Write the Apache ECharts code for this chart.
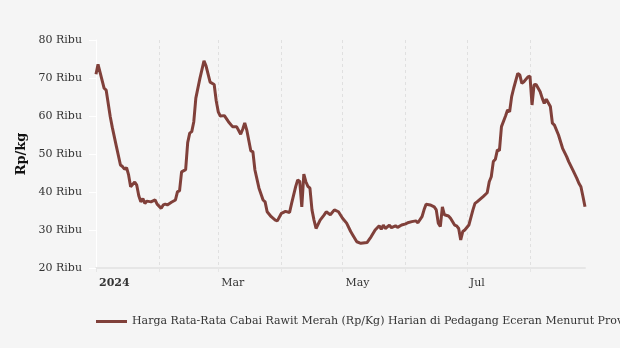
<!DOCTYPE html>
<html>
<head>
<meta charset="utf-8">
<title>Harga Cabai Rawit Merah 2024</title>
<script src="https://cdn.jsdelivr.net/npm/echarts@6/dist/echarts.min.js"></script>
<style>
  html, body { margin: 0; padding: 0; background: #f5f5f5; }
  #chart { width: 620px; height: 348px; }
</style>
</head>
<body>
<div id="chart"></div>
<script>
// Daily average retail price of red bird's-eye chili (Rp/kg), 2024
const seriesName = 'Harga Rata-Rata Cabai Rawit Merah (Rp/Kg) Harian di Pedagang Eceran Menurut Provinsi';

const dates = [
  '2024-01-01','2024-01-02','2024-01-03','2024-01-05','2024-01-06','2024-01-08','2024-01-09','2024-01-11',
  '2024-01-13','2024-01-14','2024-01-15','2024-01-16','2024-01-17','2024-01-18','2024-01-20','2024-01-21',
  '2024-01-22','2024-01-23','2024-01-24','2024-01-25','2024-01-26','2024-01-28','2024-01-30','2024-01-31',
  '2024-02-02','2024-02-03','2024-02-04','2024-02-05','2024-02-07','2024-02-09','2024-02-10','2024-02-11',
  '2024-02-12','2024-02-14','2024-02-15','2024-02-16','2024-02-17','2024-02-18','2024-02-19','2024-02-21',
  '2024-02-23','2024-02-24','2024-02-26','2024-02-28','2024-02-29',
  '2024-03-01','2024-03-02','2024-03-04','2024-03-06','2024-03-08','2024-03-10','2024-03-12','2024-03-13',
  '2024-03-14','2024-03-15','2024-03-17','2024-03-18','2024-03-19','2024-03-21','2024-03-23','2024-03-24',
  '2024-03-25','2024-03-27','2024-03-29','2024-03-30',
  '2024-04-01','2024-04-03','2024-04-05','2024-04-06','2024-04-08','2024-04-09','2024-04-10','2024-04-11',
  '2024-04-12','2024-04-13','2024-04-14','2024-04-15','2024-04-16','2024-04-17','2024-04-18','2024-04-20',
  '2024-04-22','2024-04-23','2024-04-25','2024-04-27','2024-04-29',
  '2024-05-01','2024-05-03','2024-05-05','2024-05-06','2024-05-08','2024-05-10','2024-05-13','2024-05-15',
  '2024-05-17','2024-05-19','2024-05-20','2024-05-21','2024-05-22','2024-05-24','2024-05-25','2024-05-27',
  '2024-05-28','2024-05-30',
  '2024-06-01','2024-06-02','2024-06-04','2024-06-06','2024-06-07','2024-06-09','2024-06-10','2024-06-11',
  '2024-06-13','2024-06-15','2024-06-16','2024-06-17','2024-06-18','2024-06-19','2024-06-20','2024-06-22',
  '2024-06-23','2024-06-25','2024-06-26','2024-06-27','2024-06-28','2024-06-29','2024-06-30',
  '2024-07-02','2024-07-04','2024-07-05','2024-07-06','2024-07-09','2024-07-11','2024-07-12','2024-07-13',
  '2024-07-14','2024-07-15','2024-07-16','2024-07-17','2024-07-18','2024-07-20','2024-07-21','2024-07-22',
  '2024-07-23','2024-07-24','2024-07-26','2024-07-27','2024-07-28','2024-07-29','2024-07-31',
  '2024-08-01','2024-08-02','2024-08-03','2024-08-04','2024-08-06','2024-08-07','2024-08-08','2024-08-09',
  '2024-08-11','2024-08-12','2024-08-13','2024-08-15','2024-08-17','2024-08-19','2024-08-20','2024-08-22',
  '2024-08-24','2024-08-25','2024-08-26','2024-08-27','2024-08-28'
];

const prices = [
  71000, 73600, 71500, 67300, 66800, 59800, 57000, 52000,
  47100, 46700, 46000, 46400, 44500, 41400, 42600, 41800,
  39000, 37400, 38300, 37000, 37600, 37400, 37900, 36800,
  35700, 36600, 36800, 36600, 37300, 37900, 40100, 40300,
  45300, 45900, 53000, 55500, 55900, 58500, 64700, 69900,
  74500, 73200, 68900, 68300, 64000,
  61100, 60000, 60100, 58500, 57200, 57200, 55200, 56500,
  58200, 56300, 50800, 50600, 45800, 41000, 37900, 37400,
  34800, 33500, 32600, 32400,
  34400, 34900, 34600, 37000, 41400, 43200, 42800, 36100,
  44700, 42700, 41500, 41000, 35300, 32600, 30400, 32600,
  34000, 34800, 34000, 35300, 34800,
  33100, 31800, 29600, 28700, 26900, 26500, 26700, 28200,
  30000, 31100, 30200, 31300, 30400, 31300, 30600, 31100,
  30700, 31300,
  31600, 31900, 32200, 32400, 31900, 33500, 35300, 36800,
  36600, 36100, 35300, 31800, 30900, 36100, 34000, 33700,
  33100, 31300, 31100, 30400, 27400, 29600, 30000,
  31300, 35300, 37000, 37400, 38800, 39800, 42700, 44000,
  48000, 48600, 51100, 50900, 57200, 60000, 61600, 61100,
  65100, 67300, 71200, 70800, 68600, 69000, 70300,
  70500, 62900, 68200, 68300, 66400, 64700, 63300, 64400,
  62500, 58100, 57600, 55000, 51500, 49300, 48000, 45800,
  43600, 42300, 41400, 38800, 36100
];

// Month starts get a tick and grid line; every other month carries a label
const tickMonths = [0, 1, 2, 3, 4, 5, 6, 7];
const labelMonths = [0, 2, 4, 6];
const monthNames = ['Jan', 'Feb', 'Mar', 'Apr', 'May', 'Jun', 'Jul', 'Aug', 'Sep', 'Oct', 'Nov', 'Dec'];

const yTicks = [20000, 30000, 40000, 50000, 60000, 70000, 80000];

const FONT = 'DejaVu Serif';
const lineColor = '#80403a';

const toTime = s => {
  const p = s.split('-').map(Number);
  return new Date(p[0], p[1] - 1, p[2]).getTime();
};
const monthStart = m => new Date(2024, m, 1).getTime();

const chart = echarts.init(document.getElementById('chart'), null, { renderer: 'canvas' });

chart.setOption({
  backgroundColor: '#f5f5f5',
  animation: false,
  grid: { left: 96, right: 35, top: 40, bottom: 80, containLabel: false },
  legend: {
    show: true,
    left: 91,
    top: 311,
    icon: 'rect',
    itemWidth: 31,
    itemHeight: 3,
    itemGap: 10,
    textStyle: { fontFamily: FONT, fontSize: 11, color: '#333' },
    data: [seriesName]
  },
  xAxis: {
    type: 'value',
    min: toTime(dates[0]),
    max: toTime(dates[dates.length - 1]),
    axisLine: { show: true, lineStyle: { color: '#e6e6e6', width: 2 } },
    axisTick: {
      show: true,
      length: 4,
      customValues: tickMonths.map(monthStart),
      lineStyle: { color: '#e6e6e6' }
    },
    axisLabel: {
      customValues: labelMonths.map(monthStart),
      align: 'left',
      margin: 10,
      padding: [0, 0, 0, 3],
      fontFamily: FONT,
      fontSize: 11,
      color: '#333',
      formatter: function (v) {
        const d = new Date(v);
        if (d.getMonth() === 0) return '{yr|' + d.getFullYear() + '}';
        return monthNames[d.getMonth()];
      },
      rich: {
        yr: { fontFamily: FONT, fontSize: 11, fontWeight: 'bold', color: '#333' }
      }
    },
    splitLine: {
      show: true,
      lineStyle: { color: '#e0e0e0', type: [3, 3], width: 1 }
    }
  },
  yAxis: {
    type: 'value',
    min: yTicks[0],
    max: yTicks[yTicks.length - 1],
    interval: 10000,
    name: 'Rp/kg',
    nameLocation: 'middle',
    nameGap: 65,
    nameTextStyle: { fontFamily: FONT, fontSize: 13, fontWeight: 'bold', color: '#111' },
    axisLine: { show: true, lineStyle: { color: '#ffffff', width: 1 } },
    axisTick: { show: true, length: 7, lineStyle: { color: '#ffffff' } },
    axisLabel: {
      margin: 14,
      fontFamily: FONT,
      fontSize: 11,
      color: '#333',
      formatter: v => (v / 1000) + ' Ribu'
    },
    splitLine: { show: false }
  },
  series: [{
    name: seriesName,
    type: 'line',
    showSymbol: false,
    symbol: 'none',
    smooth: false,
    color: lineColor,
    lineStyle: { color: lineColor, width: 3 },
    data: dates.map((d, i) => [toTime(d), prices[i]])
  }]
});
</script>
</body>
</html>
